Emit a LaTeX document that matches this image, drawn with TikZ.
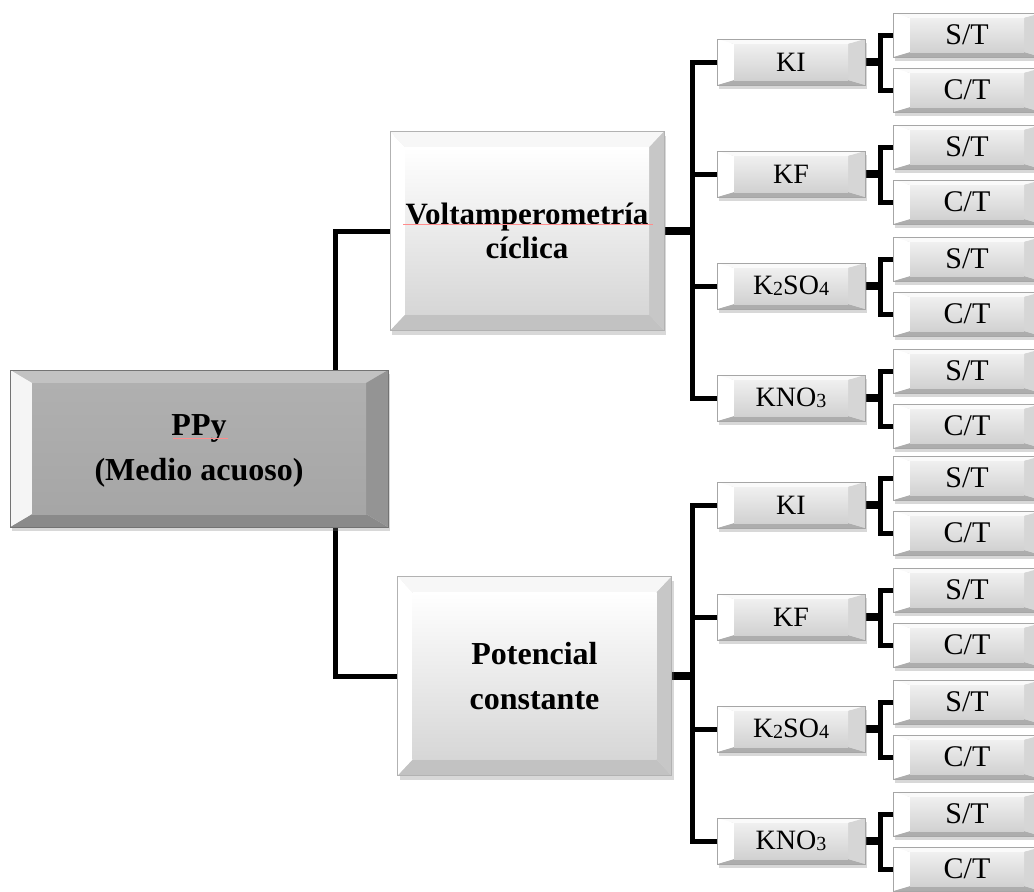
\documentclass[tikz,border=0pt]{standalone}
\usepackage{fontspec}
\setmainfont{Liberation Serif}
\usetikzlibrary{shadows,backgrounds}

% Bevelled face: #1,#2 inset (pt); #3 top, #4 left, #5 right, #6 bottom facets; #7,#8 face gradient
\newcommand\BevelFaces[8]{%
  \path (path picture bounding box.south west) coordinate (bSW)
        (path picture bounding box.north east) coordinate (bNE)
        (path picture bounding box.north west) coordinate (bNW)
        (path picture bounding box.south east) coordinate (bSE);
  \path ([xshift=#1pt,yshift=#2pt]bSW) coordinate (iSW)
        ([xshift=-#1pt,yshift=-#2pt]bNE) coordinate (iNE)
        ([xshift=#1pt,yshift=-#2pt]bNW) coordinate (iNW)
        ([xshift=-#1pt,yshift=#2pt]bSE) coordinate (iSE);
  \fill[#3] (bNW) -- (bNE) -- (iNE) -- (iNW) -- cycle;
  \fill[#6] (bSW) -- (bSE) -- (iSE) -- (iSW) -- cycle;
  \fill[#4] (bSW) -- (bNW) -- (iNW) -- (iSW) -- cycle;
  \fill[#5] (bSE) -- (bNE) -- (iNE) -- (iSE) -- cycle;
  \shade[top color=#7,bottom color=#8] (iSW) rectangle (iNE);
}
\newcommand\chemsub[1]{{\fontsize{20}{20}\selectfont\raisebox{-1pt}{#1}}}

\tikzset{
  boxshadow/.style={drop shadow={shadow xshift=2pt,shadow yshift=-4pt,opacity=0.3}},
  rootbox/.style={rectangle, inner sep=0pt, minimum width=378pt, minimum height=157pt,
    draw=black!55, line width=0.8pt, boxshadow,
    path picture={\BevelFaces{22}{13}{black!24}{black!4}{black!42}{black!46}{black!31}{black!35}},
    font=\bfseries\fontsize{32}{45}\selectfont, align=center},
  methodbox/.style={rectangle, inner sep=0pt, minimum width=274pt, minimum height=199pt,
    draw=black!30, line width=0.8pt, boxshadow,
    path picture={\BevelFaces{15}{16}{black!3}{white}{black!22}{black!24}{white}{black!16}},
    font=\bfseries\fontsize{32}{45}\selectfont, align=center},
  saltbox/.style={rectangle, inner sep=0pt, minimum width=148pt, minimum height=46pt,
    draw=black!35, line width=0.7pt, boxshadow,
    path picture={\BevelFaces{17}{5}{black!2}{white}{black!16}{black!32}{black!6}{black!18}},
    font=\fontsize{28}{30}\selectfont},
  leafbox/.style={saltbox, minimum height=44pt, font=\fontsize{30}{32}\selectfont},
  linkline/.style={line width=5pt, black},
  stubline/.style={line width=7.5pt, black},
  squiggle/.style={red!45, line width=0.8pt}
}

\begin{document}
\begin{tikzpicture}[x=1pt,y=-1pt]
\begin{scope}[on background layer]
  \fill[white] (0,0) rectangle (1034,892);
\end{scope}
\useasboundingbox (0,0) rectangle (1034,892);

% main blocks
\node[rootbox] (root) at (199,448.5) {\raisebox{-8pt}{\begin{tabular}{@{}c@{}}PPy\\(Medio acuoso)\end{tabular}}};
\node[methodbox, font=\bfseries\fontsize{31}{34}\selectfont] (volt) at (527,231) {Voltamperometría\\cíclica};
\node[methodbox] (pot) at (534.5,676) {Potencial\\constante};

% spell-check marks under two words
\draw[squiggle] ([xshift=-26pt,yshift=10pt]root.center) -- ([xshift=29pt,yshift=10pt]root.center);
\draw[squiggle] ([xshift=-124pt,yshift=7pt]volt.center) -- ([xshift=126pt,yshift=7pt]volt.center);

% electrolytes and their S/T, C/T variants
\foreach \g/\ys in {1/62, 2/505} {
  \foreach \nm/\lab [count=\i from 0] in {ki/KI, kf/KF, kso/K\chemsub{2}SO\chemsub{4}, kno/KNO\chemsub{3}} {
    \pgfmathsetmacro\yy{\ys+112*\i}
    \node[saltbox] (\nm\g) at (791,\yy) {\lab};
    \node[leafbox] (\nm\g-st) at (967,\yy-27) {S/T};
    \node[leafbox] (\nm\g-ct) at (967,\yy+28) {C/T};
    \begin{scope}[on background layer]
      \draw[stubline] (\nm\g.east) -- ++(15,0) coordinate (\nm\g-bk);
      \draw[linkline] (\nm\g-st.west) -| (\nm\g-bk) |- (\nm\g-ct.west);
    \end{scope}
  }
}

\coordinate (rj) at (335,448);
\coordinate (vj1) at (692,231);
\coordinate (vj2) at (692,676);

\begin{scope}[on background layer]
  % root to the two methods
  \draw[linkline] (volt.west) -| (rj) |- (pot.west);
  % methods to electrolytes
  \draw[stubline] (volt.east) -- (vj1);
  \draw[linkline] (ki1.west) -| (vj1) |- (kno1.west);
  \draw[linkline] (kf1.west) -- (kf1.west -| vj1);
  \draw[linkline] (kso1.west) -- (kso1.west -| vj1);
  \draw[stubline] (pot.east) -- (vj2);
  \draw[linkline] (ki2.west) -| (vj2) |- (kno2.west);
  \draw[linkline] (kf2.west) -- (kf2.west -| vj2);
  \draw[linkline] (kso2.west) -- (kso2.west -| vj2);
\end{scope}
\end{tikzpicture}
\end{document}
